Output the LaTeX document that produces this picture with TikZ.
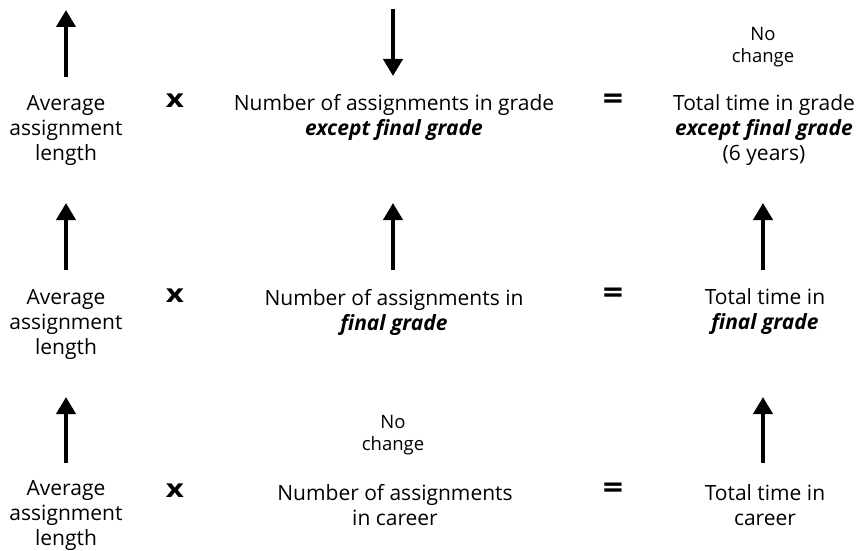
\documentclass[tikz,border=0pt]{standalone}
\usepackage{fontspec}
\setmainfont{Open Sans}
\usetikzlibrary{arrows.meta}
\begin{document}
\begin{tikzpicture}[x=1pt,y=-1pt,
  txt/.style={align=center, font=\fontsize{21}{25}\selectfont, inner sep=0pt},
  small/.style={align=center, font=\fontsize{18.5}{22}\selectfont, inner sep=0pt},
  timesop/.style={font=\fontsize{25}{25}\selectfont\bfseries, inner sep=0pt, xscale=1.25, transform shape},
  eqop/.style={font=\fontsize{31}{31}\selectfont\bfseries, inner sep=0pt, xscale=1.15, transform shape},
  arr/.style={line width=4pt, -{Triangle[width=19pt,length=17pt]}}]
\useasboundingbox (0,0) rectangle (865,551);

% Row 1
\node[txt] (avg1) at (66,130) {Average\\assignment\\length};
\node[timesop] (x1) at (175,101) {x};
\node[txt] (num1) at (394,117.5) {Number of assignments in grade\\\textbf{\textit{except final grade}}};
\node[eqop] (eq1) at (613,102) {=};
\node[small] (nc1) at (763,47) {No\\change};
\node[txt] (tot1) at (764,130) {Total time in grade\\\textbf{\textit{except final grade}}\\(6 years)};

% Row 2
\node[txt] (avg2) at (66,324) {Average\\assignment\\length};
\node[timesop] (x2) at (175,296) {x};
\node[txt] (num2) at (394,312) {Number of assignments in\\\textbf{\textit{final grade}}};
\node[eqop] (eq2) at (613,296) {=};
\node[txt] (tot2) at (765,312) {Total time in\\\textbf{\textit{final grade}}};

% Row 3
\node[txt] (avg3) at (66,515.5) {Average\\assignment\\length};
\node[timesop] (x3) at (175,491) {x};
\node[small] (nc3) at (393,435) {No\\change};
\node[txt] (num3) at (395,505) {Number of assignments\\in career};
\node[eqop] (eq3) at (613,491) {=};
\node[txt] (tot3) at (765,505) {Total time in\\career};

% arrow end points
\coordinate (a1s) at (66,77);  \coordinate (a1e) at (66,10);
\coordinate (b1s) at (393,9);  \coordinate (b1e) at (393,76);
\coordinate (a2s) at (66,270); \coordinate (a2e) at (66,203);
\coordinate (b2s) at (393,270); \coordinate (b2e) at (393,203);
\coordinate (c2s) at (763,270); \coordinate (c2e) at (763,203);
\coordinate (a3s) at (66,463); \coordinate (a3e) at (66,397);
\coordinate (c3s) at (763,463); \coordinate (c3e) at (763,397);

\draw[arr] (a1s) -- (a1e);
\draw[arr] (b1s) -- (b1e);
\draw[arr] (a2s) -- (a2e);
\draw[arr] (b2s) -- (b2e);
\draw[arr] (c2s) -- (c2e);
\draw[arr] (a3s) -- (a3e);
\draw[arr] (c3s) -- (c3e);
\end{tikzpicture}
\end{document}
